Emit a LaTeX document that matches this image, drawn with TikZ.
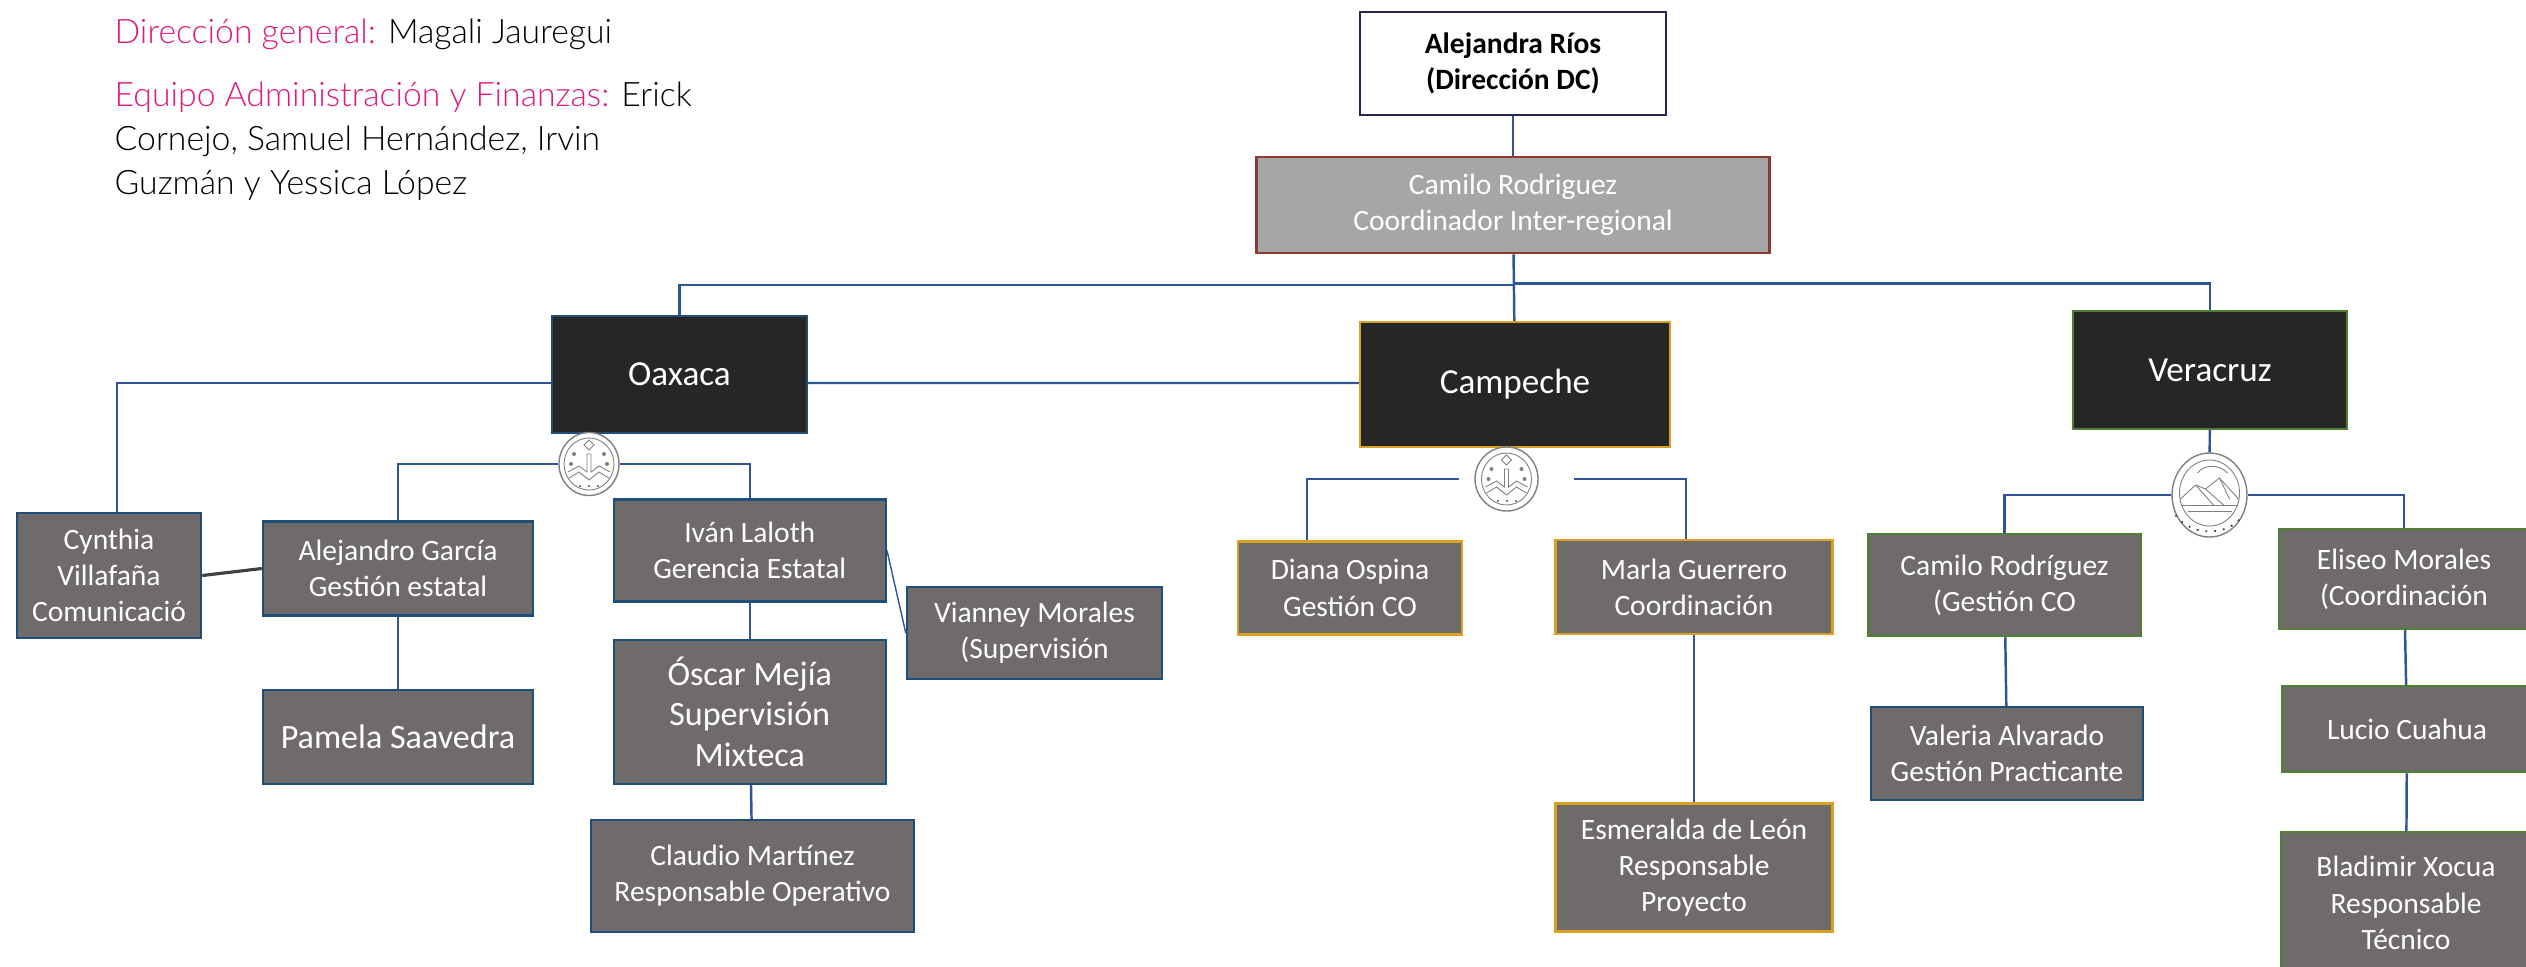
\documentclass[tikz,border=0pt]{standalone}
\usepackage{fontspec}
\setmainfont{Carlito}
\newfontfamily\introfont[UprightFont={* Light}]{Lato}
\usepackage{tikz}
\usetikzlibrary{shapes.geometric}

\definecolor{persgray}{HTML}{6F6B6B}
\definecolor{regionblack}{HTML}{262626}
\definecolor{lineblue}{HTML}{2F5597}
\definecolor{bordorange}{HTML}{D9A021}
\definecolor{bordgreen}{HTML}{4E7F33}
\definecolor{bordblue}{HTML}{1F4E79}
\definecolor{bordred}{HTML}{8B3A2F}
\definecolor{intropink}{HTML}{E0187F}
\definecolor{coordgray}{HTML}{A6A6A6}
\definecolor{topnavy}{HTML}{2A2550}

\begin{document}
\begin{tikzpicture}[inner sep=0pt]
    \tikzstyle{intro}=[font=\introfont\fontsize{9.6}{12.5}\selectfont, align=left, anchor=base west, text=black]
    \tikzstyle{pers}=[rectangle, fill=persgray, draw=bordblue, text=white, align=center, line width=.7pt, font=\fontsize{8.4}{10.3}\selectfont]
    \tikzstyle{persO}=[pers]
    \tikzstyle{persC}=[pers, draw=bordorange]
    \tikzstyle{persV}=[pers, draw=bordgreen]
    \tikzstyle{region}=[rectangle, fill=regionblack, text=white, line width=.7pt, font=\fontsize{10}{12}\selectfont]
    \tikzstyle{seal}=[ellipse, draw=gray, line width=.4pt, fill=white]
    \tikzstyle{link}=[draw=lineblue, line width=.7pt]
    \tikzstyle{sealline}=[draw=gray, line width=.25pt]

    \useasboundingbox (0,0) rectangle (25.26,-9.66);

    \node[intro] (dirgral) at (1.14,-0.43) {\textcolor{intropink}{Dirección general:} Magali Jauregui};
    \node[intro] (equipo) at (1.14,-1.94) {\textcolor{intropink}{Equipo Administración y Finanzas:} Erick\\Cornejo, Samuel Hernández, Irvin\\Guzmán y Yessica López};

    % direccion
    \node[rectangle, fill=white, draw=topnavy, line width=.8pt, align=center, text=black, minimum width=3.06cm, minimum height=1.03cm, font=\bfseries\fontsize{8.4}{10.3}\selectfont] (rios) at (15.13,-0.635) {Alejandra Ríos\\(Dirección DC)};
    \node[rectangle, fill=coordgray, draw=bordred, line width=.8pt, align=center, text=white, minimum width=5.13cm, minimum height=0.96cm, font=\fontsize{8.4}{10.3}\selectfont, node distance=1.415cm] (interreg) [below of=rios] {Camilo Rodriguez\\Coordinador Inter-regional};
    \coordinate (bar) at (15.15,-2.85);

    % regiones
    \node[region, draw=bordorange, minimum width=3.10cm, minimum height=1.25cm, node distance=1.795cm] (campeche) [below of=interreg, xshift=.02cm] {Campeche};
    \node[region, draw=bordblue, minimum width=2.55cm, minimum height=1.17cm] (oaxaca) at (6.795,-3.745) {Oaxaca};
    \node[region, draw=bordgreen, minimum width=2.74cm, minimum height=1.18cm] (veracruz) at (22.1,-3.70) {Veracruz};

    \node[seal, minimum width=.60cm, minimum height=.63cm] (logoO) at (5.89,-4.64) {};
    \node[seal, minimum width=.63cm, minimum height=.64cm] (logoC) at (15.065,-4.79) {};
    \node[seal, minimum width=.75cm, minimum height=.84cm] (logoV) at (22.095,-4.95) {};

    % oaxaca
    \node[persO, minimum width=1.84cm, minimum height=1.25cm] (cynthia) at (1.09,-5.755) {Cynthia\\Villafaña\\Comunicació};
    \node[persO, minimum width=2.70cm, minimum height=.94cm] (garcia) at (3.98,-5.685) {Alejandro García\\Gestión estatal};
    \node[persO, minimum width=2.70cm, minimum height=.94cm, node distance=1.685cm, font=\fontsize{9.7}{12}\selectfont] (pamela) [below of=garcia] {Pamela Saavedra};
    \node[persO, minimum width=2.72cm, minimum height=1.02cm] (laloth) at (7.4975,-5.505) {Iván Laloth\\Gerencia Estatal};
    \node[persO, minimum width=2.72cm, minimum height=1.44cm, node distance=1.613cm, font=\fontsize{9.7}{11.6}\selectfont] (mejia) [below of=laloth] {Óscar Mejía\\Supervisión\\Mixteca};
    \node[persO, minimum width=3.23cm, minimum height=1.12cm, node distance=1.642cm] (martinez) [below of=mejia, xshift=.0275cm] {Claudio Martínez\\Responsable Operativo};
    \node[persO, minimum width=2.55cm, minimum height=.92cm] (vianney) at (10.345,-6.33) {Vianney Morales\\(Supervisión};

    % campeche
    \node[persC, minimum width=2.24cm, minimum height=.93cm] (ospina) at (13.50,-5.88) {Diana Ospina\\Gestión CO};
    \node[persC, minimum width=2.766cm, minimum height=.94cm] (guerrero) at (16.94,-5.87) {Marla Guerrero\\Coordinación};
    \node[persC, minimum width=2.766cm, minimum height=1.28cm, node distance=2.805cm] (leon) [below of=guerrero] {Esmeralda de León\\Responsable\\Proyecto};

    % veracruz
    \node[persV, minimum width=2.73cm, minimum height=1.02cm] (rodriguez) at (20.045,-5.85) {Camilo Rodríguez\\(Gestión CO};
    \node[pers, minimum width=2.724cm, minimum height=.93cm, node distance=1.685cm] (alvarado) [below of=rodriguez, xshift=.025cm] {Valeria Alvarado\\Gestión Practicante};
    \node[persV, minimum width=2.50cm, minimum height=1.00cm] (morales) at (24.04,-5.79) {Eliseo Morales\\(Coordinación};
    \node[persV, minimum width=2.50cm, minimum height=.86cm, node distance=1.50cm] (cuahua) [below of=morales, xshift=.03cm] {Lucio Cuahua};
    \node[persV, minimum width=2.50cm, minimum height=1.42cm, node distance=1.74cm] (xocua) [below of=cuahua, xshift=-.01cm] {Bladimir Xocua\\Responsable\\Técnico};

    % tronco
    \draw[link] (rios) to (interreg);
    \draw[link] (interreg) to (campeche);
    \draw[link] (bar) -| (oaxaca.north);
    \draw[link] ([yshift=.015cm] bar) -| (veracruz.north);
    \draw[link] ([yshift=-.085cm] oaxaca.west) -| ([xshift=.08cm] cynthia.north);
    \draw[link] ([yshift=-.085cm] oaxaca.east) to ([yshift=.015cm] campeche.west);

    \draw[link] (logoO.west) -| (garcia.north);
    \draw[link] (logoO.east) -| (laloth.north);
    \draw[link] (garcia) to (pamela);
    \draw[link] (laloth) to (mejia);
    \draw[link] (mejia) to (martinez);
    \draw[draw=lineblue, line width=.4pt] (laloth.east) to (vianney.west);
    \draw[draw=darkgray, line width=.9pt] (cynthia.east) to (garcia.west);

    \draw[link] ([xshift=-.15cm] logoC.west) -| ([xshift=-.43cm] ospina.north);
    \draw[link] ([xshift=.35cm] logoC.east) -| ([xshift=-.08cm] guerrero.north);
    \draw[link] (guerrero) to (leon);

    \draw[link] (veracruz) to (logoV);
    \draw[link] (logoV.west) -| (rodriguez.north);
    \draw[link] (logoV.east) -| (morales.north);
    \draw[link] (rodriguez) to (alvarado);
    \draw[link] (morales) to (cuahua);
    \draw[link] (cuahua) to (xocua);

    % sellos
    \foreach \s in {logoO,logoC} {
        \begin{scope}[shift={(\s)}]
            \draw[sealline] (0,0) ellipse (.25cm and .26cm);
            \draw[sealline] (0,.14) -- (.05,.19) -- (0,.24) -- (-.05,.19) -- cycle;
            \draw[sealline] (-.21,-.08) -- (-.1,-.02) -- (-.02,-.08) -- (-.02,.1) -- (.02,.1) -- (.02,-.08) -- (.1,-.02) -- (.21,-.08);
            \draw[sealline] (-.2,-.14) -- (-.1,-.08) -- (0,-.16) -- (.1,-.08) -- (.2,-.14);
            \draw[draw=gray, line width=.6pt, dotted] (-.1,-.22) -- (.1,-.22);
            \fill[gray] (-.15,.1) circle (.02) (.15,.1) circle (.02) (-.18,.0) circle (.02) (.18,.0) circle (.02);
        \end{scope}
    }
    \begin{scope}[shift={(logoV)}]
        \draw[sealline] (0,.02) ellipse (.30cm and .33cm);
        \draw[sealline] (-.29,-.04) -- (-.14,.1) -- (-.04,.06) -- (.1,.17) -- (.29,-.04);
        \draw[sealline] (-.14,.1) -- (.04,-.1) (-.04,.06) -- (.14,-.1) (.1,.17) -- (.2,-.04);
        \draw[sealline] (-.28,-.1) -- (.28,-.1) (-.22,-.16) -- (.22,-.16);
        \draw[sealline] (-.12,.22) .. controls (-.04,.32) and (.1,.3) .. (.18,.22);
        \draw[draw=darkgray, line width=.5pt, dotted] (-.34,-.2) .. controls (-.18,-.42) and (.18,-.42) .. (.34,-.2);
    \end{scope}
\end{tikzpicture}
\end{document}
